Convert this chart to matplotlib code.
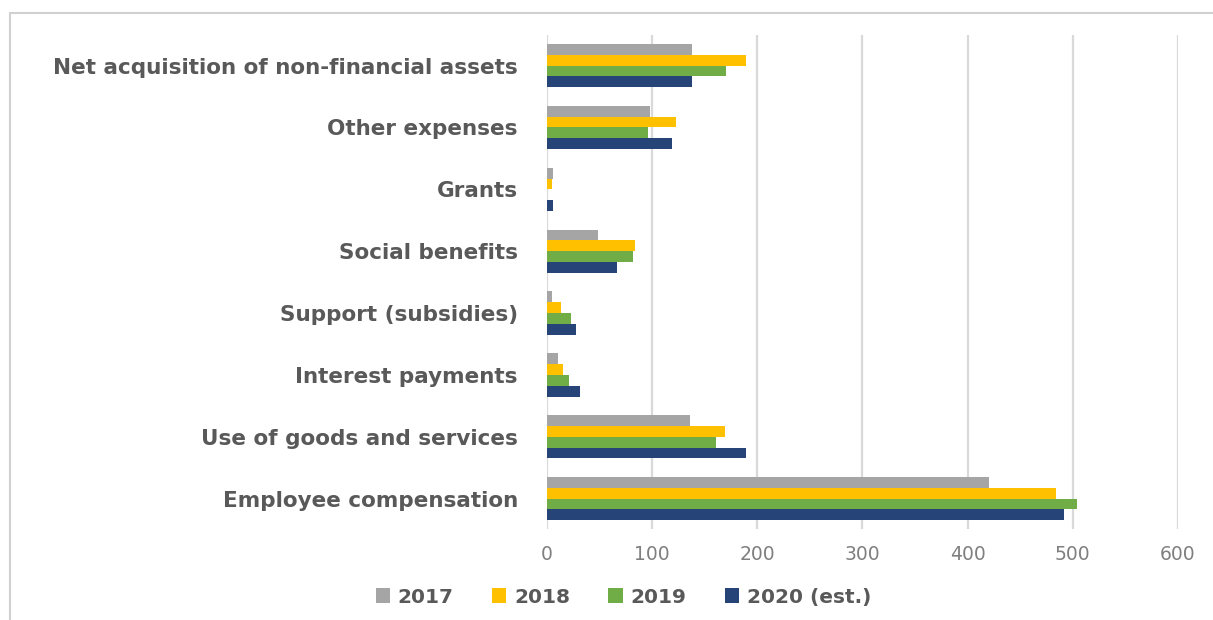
import matplotlib
matplotlib.use("Agg")
import matplotlib.pyplot as plt
import numpy as np
from matplotlib.patches import Rectangle, Patch

categories = [
    "Net acquisition of non-financial assets",
    "Other expenses",
    "Grants",
    "Social benefits",
    "Support (subsidies)",
    "Interest payments",
    "Use of goods and services",
    "Employee compensation",
]
series_names = ["2017", "2018", "2019", "2020 (est.)"]
v2017 = [138, 98, 6, 48, 4.5, 10, 136, 420]
v2018 = [189, 123, 5, 84, 13, 15, 169, 484]
v2019 = [170, 96, 0, 82, 23, 21, 161, 504]
v2020 = [138, 119, 6, 67, 28, 31, 189, 492]
x_ticks = [0, 100, 200, 300, 400, 500, 600]

colors = ["#a5a5a5", "#ffc000", "#70ad47", "#264478"]
text_dark = "#595959"

fig = plt.figure(figsize=(12.13, 6.2), dpi=100)
ax = fig.add_axes([0.451, 0.146, 0.520, 0.798])

y = np.arange(len(categories))
h = 0.175
offsets = [-1.5 * h, -0.5 * h, 0.5 * h, 1.5 * h]
for vals, off, col, name in zip([v2017, v2018, v2019, v2020], offsets, colors, series_names):
    ax.barh(y + off, vals, height=h, color=col, label=name, zorder=3)

ax.set_ylim(len(categories) - 0.5, -0.5)
ax.set_xlim(0, 600)
ax.set_xticks(x_ticks)
ax.set_xticklabels([str(t) for t in x_ticks], fontsize=13.5, color="#7f7f7f")
ax.set_yticks(y)
ax.set_yticklabels(categories, fontsize=15.5, fontweight="bold", color=text_dark)
ax.tick_params(axis="both", length=0)
ax.tick_params(axis="y", pad=21)
ax.tick_params(axis="x", pad=11)
ax.grid(axis="x", color="#d9d9d9", linewidth=1.6, zorder=0)
for s in ax.spines.values():
    s.set_visible(False)

handles = [Patch(facecolor=c, edgecolor="none") for c in colors]
fig.legend(handles, series_names, loc="center", bbox_to_anchor=(0.514, 0.037),
           ncol=4, frameon=False, handlelength=0.7, handleheight=0.7,
           handletextpad=0.4, columnspacing=1.9,
           prop={"size": 14.5, "weight": "bold"}, labelcolor=text_dark)

# light border framing the chart area
fig.patches.append(Rectangle((10 / 1213, -0.1), 1.5, 1 - 13 / 620 + 0.1,
                             transform=fig.transFigure, fill=False,
                             edgecolor="#d0d0d0", linewidth=1.5))

fig.savefig("out.png", dpi=100, facecolor="white")
